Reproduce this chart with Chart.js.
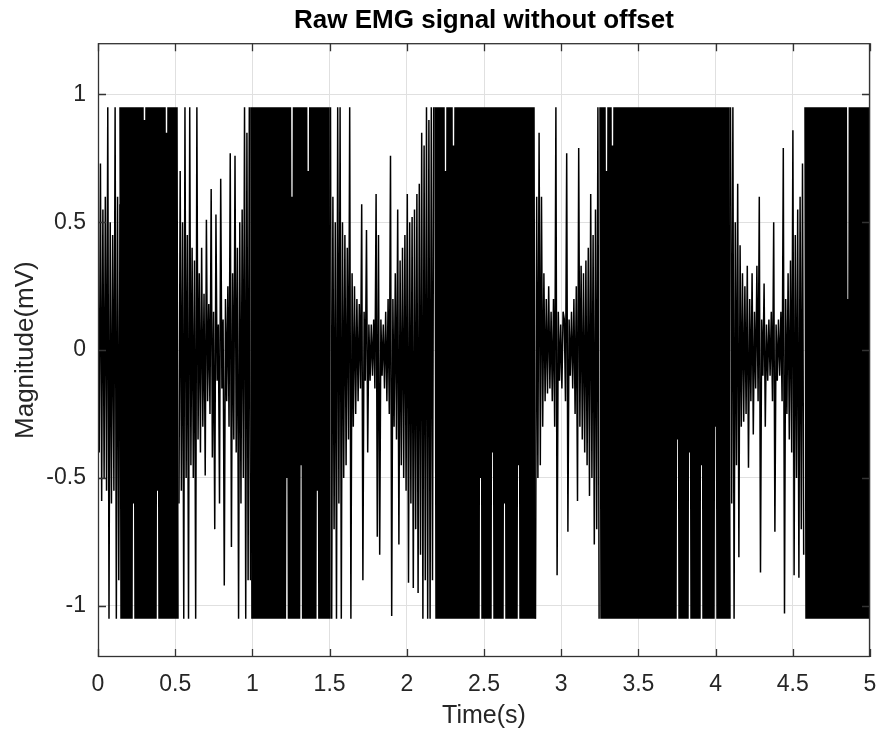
<!DOCTYPE html>
<html>
<head>
<meta charset="utf-8">
<title>Raw EMG signal without offset</title>
<script src="https://cdn.jsdelivr.net/npm/chart.js@4.4.1/dist/chart.umd.min.js"></script>
<style>
    html, body { margin: 0; padding: 0; background: #ffffff; }
    canvas { display: block; }
</style>
</head>
<body>
<canvas id="emgChart" width="881" height="731"></canvas>
<script>
// Tick labels
const xTicks = [0, 0.5, 1, 1.5, 2, 2.5, 3, 3.5, 4, 4.5, 5];
const yTicks = [-1, -0.5, 0, 0.5, 1];

// Time spans (s) of each stretch of samples
const restSpans = [[0, 0.1425], [0.5246, 0.9877], [1.5058, 2.1742], [2.8335, 3.2455], [4.0964, 4.5706]];
const burstSpans = [[0.1457, 0.5149], [0.9935, 1.4994], [2.1859, 2.8271], [3.2545, 4.09], [4.5822, 5]];

// Magnitude (mV) between contractions
const rest0 = [0.35, -0.4, 0.73, -0.59, 0.55, -0.5, 0.6, -0.55, 0.95, -1.05, 0.5, -0.6, 0.45, -0.55, 0.95, -1.05,
    0.6, -0.9, 0.57];
const rest1 = [-0.6, 0.7, -0.55, 0.5, -1.05, 0.95, -0.5, 0.45, -1.05, 0.95, -0.45, 0.4, -0.5, 0.35, -1.05, 0.95,
    -0.35, 0.3, -0.4, 0.4, -0.3, 0.22, -0.49, 0.51, -0.2, 0.18, -0.25, 0.63, -0.42, 0.15, -0.7, 0.53, -0.12,
    0.1, -0.6, 0.67, -0.15, 0.12, -0.92, 0.2, -0.2, 0.25, -0.3, 0.77, -0.77, 0.3, -0.35, 0.76, -0.4, 0.4,
    -1.05, 0.5, -0.6, 0.55, -0.5, 0.95, -1.05, 0.85, -0.9, 0.95, -0.9];
const rest2 = [0.95, -1.05, 0.6, -0.7, 0.5, -1.05, 0.95, -0.6, 0.95, -1.05, 0.5, -0.5, 0.45, -0.45, 0.4, -0.35,
    0.95, -1.05, 0.3, -0.3, 0.25, -0.25, 0.2, -0.2, 0.18, -0.15, 0.57, -0.9, 0.15, -0.12, 0.47, -0.4, 0.1,
    -0.12, 0.1, -0.1, 0.12, -0.15, 0.61, -0.73, 0.45, -0.8, 0.12, -0.1, 0.1, -0.15, 0.15, -0.2, 0.2, -0.25,
    0.76, -1.04, 0.2, -0.3, 0.3, -0.35, 0.55, -0.76, 0.35, -0.45, 0.4, -0.5, 0.45, -0.55, 0.61, -0.91, 0.5,
    -0.6, 0.52, -0.93, 0.55, -0.7, 0.61, -0.95, 0.65, -0.8, 0.85, -1.05, 0.8, -0.9, 0.95, -1.05, 0.9, -1.05,
    0.95, -0.9, 0.95];
const rest3 = [-1.05, 0.6, -0.5, 0.85, -0.45, 0.6, -0.3, 0.3, -0.2, 0.2, -0.17, 0.25, -0.15, 0.15, -0.2, 0.2,
    -0.3, 0.95, -0.88, 0.15, -0.12, 0.1, -0.15, 0.15, 0.12, -0.2, 0.77, -0.71, 0.12, -0.1, 0.15, -0.15, 0.2,
    -0.25, 0.25, -0.59, 0.79, -0.3, 0.33, -0.35, 0.3, -0.4, 0.35, -0.45, 0.4, -0.57, 0.61, -0.5, 0.45, -0.76,
    0.55, -0.7, 0.95, -1.05];
const rest4 = [0.95, -0.6, 0.95, -1.05, 0.5, -0.45, 0.65, -0.81, 0.41, -0.3, 0.3, -0.28, 0.25, -0.25, 0.33, -0.46,
    0.2, -0.2, 0.3, -0.33, 0.15, -0.15, 0.33, -0.2, 0.6, -0.87, 0.12, -0.1, 0.26, -0.3, 0.1, -0.12, 0.12,
    -0.1, 0.15, -0.2, 0.5, -0.71, 0.1, -0.12, 0.12, -0.1, 0.15, -0.2, 0.79, -1.03, 0.2, -0.25, 0.3, -0.35,
    0.35, -0.4, 0.86, -0.88, 0.45, -0.5, 0.55, -0.89, 0.6, -0.7, 0.73, -0.8];

// Magnitude (mV) during contractions (clipped at 0.95 / -1.05)
const burst1 = [
    0.95, -1.05, 0.95, -1.05, 0.95, -1.05, 0.95, -1.05, 0.95, -1.05,
    0.95, -1.05, 0.95, -0.6, 0.95, -1.05, 0.95, -1.05, 0.95, -1.05,
    0.95, -1.05, 0.95, -1.05, 0.9, -1.05, 0.95, -1.05, 0.95, -1.05,
    0.95, -1.05, 0.95, -1.05, 0.95, -1.05, 0.95, -0.55, 0.95, -1.05,
    0.95, -1.05, 0.95, -1.05, 0.95, -1.05, 0.85, -1.05, 0.95, -1.05,
    0.95, -1.05, 0.95, -1.05, 0.95, -1.05, 0.95, -1.05];
const burst2 = [
    0.95, -1.05, 0.95, -1.05, 0.95, -1.05, 0.95, -1.05, 0.95, -1.05,
    0.95, -1.05, 0.95, -1.05, 0.95, -1.05, 0.95, -1.05, 0.95, -1.05,
    0.95, -1.05, 0.95, -1.05, 0.95, -1.05, 0.95, -1.05, 0.95, -1.05,
    0.95, -1.05, 0.95, -1.05, 0.95, -0.5, 0.95, -1.05, 0.95, -1.05,
    0.6, -1.05, 0.95, -1.05, 0.95, -1.05, 0.95, -1.05, 0.95, -0.45,
    0.95, -1.05, 0.95, -1.05, 0.95, -1.05, 0.7, -1.05, 0.95, -1.05,
    0.95, -1.05, 0.95, -1.05, 0.95, -0.55, 0.95, -1.05, 0.95, -1.05,
    0.95, -1.05, 0.95, -1.05, 0.95, -1.05, 0.95, -1.05];
const burst3 = [
    0.95, -1.05, 0.95, -1.05, 0.95, -1.05, 0.95, -1.05, 0.95, -1.05,
    0.7, -1.05, 0.95, -1.05, 0.95, -1.05, 0.95, -1.05, 0.8, -1.05,
    0.95, -1.05, 0.95, -1.05, 0.95, -1.05, 0.95, -1.05, 0.95, -1.05,
    0.95, -1.05, 0.95, -1.05, 0.95, -1.05, 0.95, -1.05, 0.95, -1.05,
    0.95, -1.05, 0.95, -1.05, 0.95, -0.5, 0.95, -1.05, 0.95, -1.05,
    0.95, -1.05, 0.95, -1.05, 0.95, -1.05, 0.95, -0.4, 0.95, -1.05,
    0.95, -1.05, 0.95, -1.05, 0.95, -1.05, 0.95, -1.05, 0.95, -0.6,
    0.95, -1.05, 0.95, -1.05, 0.95, -1.05, 0.95, -1.05, 0.95, -1.05,
    0.95, -1.05, 0.95, -0.45, 0.95, -1.05, 0.95, -1.05, 0.95, -1.05,
    0.95, -1.05, 0.95, -1.05, 0.95, -1.05, 0.95, -1.05, 0.95, -1.05];
const burst4 = [
    0.95, -1.05, 0.95, -1.05, 0.95, -1.05, 0.7, -1.05, 0.95, -1.05,
    0.95, -1.05, 0.8, -1.05, 0.95, -1.05, 0.95, -1.05, 0.95, -1.05,
    0.95, -1.05, 0.95, -1.05, 0.95, -1.05, 0.95, -1.05, 0.95, -1.05,
    0.95, -1.05, 0.95, -1.05, 0.95, -1.05, 0.95, -1.05, 0.95, -1.05,
    0.95, -1.05, 0.95, -1.05, 0.95, -1.05, 0.95, -1.05, 0.95, -1.05,
    0.95, -1.05, 0.95, -1.05, 0.95, -1.05, 0.95, -1.05, 0.95, -1.05,
    0.95, -1.05, 0.95, -1.05, 0.95, -1.05, 0.95, -1.05, 0.95, -1.05,
    0.95, -1.05, 0.95, -1.05, 0.95, -1.05, 0.95, -0.35, 0.95, -1.05,
    0.95, -1.05, 0.95, -1.05, 0.95, -1.05, 0.95, -1.05, 0.95, -0.4,
    0.95, -1.05, 0.95, -1.05, 0.95, -1.05, 0.95, -1.05, 0.95, -1.05,
    0.95, -0.45, 0.95, -1.05, 0.95, -1.05, 0.95, -1.05, 0.95, -1.05,
    0.95, -1.05, 0.95, -1.05, 0.95, -0.3, 0.95, -1.05, 0.95, -1.05,
    0.95, -1.05, 0.95, -1.05, 0.95, -1.05, 0.95, -1.05, 0.95, -1.05];
const burst5 = [
    0.95, -1.05, 0.95, -1.05, 0.95, -1.05, 0.95, -1.05, 0.95, -1.05,
    0.95, -1.05, 0.95, -1.05, 0.95, -1.05, 0.95, -1.05, 0.95, -1.05,
    0.95, -1.05, 0.95, -1.05, 0.95, -1.05, 0.95, -1.05, 0.95, -1.05,
    0.95, -1.05, 0.95, -1.05, 0.95, -1.05, 0.95, -1.05, 0.95, -1.05,
    0.95, -1.05, 0.2, -1.05, 0.95, -1.05, 0.95, -1.05, 0.95, -1.05,
    0.95, -1.05, 0.95, -1.05, 0.95, -1.05, 0.95, -1.05, 0.95, -1.05,
    0.95, -1.05, 0.95, -1.05, 0.95];

const rests = [rest0, rest1, rest2, rest3, rest4];
const bursts = [burst1, burst2, burst3, burst4, burst5];

// Spread a stretch of samples evenly over its time span
function toPoints(span, values) {
    const step = (span[1] - span[0]) / (values.length - 1);
    return values.map((v, i) => ({ x: span[0] + i * step, y: v }));
}

function makeDataset(points, width) {
    return {
        data: points,
        borderColor: '#000000',
        borderWidth: width,
        pointRadius: 0,
        tension: 0,
        borderJoinStyle: 'bevel'
    };
}

const datasets = [];
rests.forEach((r, i) => datasets.push(makeDataset(toPoints(restSpans[i], r), 1.5)));
bursts.forEach((b, i) => datasets.push(makeDataset(toPoints(burstSpans[i], b), 2.5)));

const axisColor = '#262626';
const fontFamily = '"Liberation Sans", Arial, Helvetica, sans-serif';

// Box round the axes and inward tick marks, MATLAB style
const axesBox = {
    id: 'axesBox',
    afterDatasetsDraw(chart) {
        const { ctx, chartArea: a, scales } = chart;
        ctx.save();
        ctx.strokeStyle = '#333333';
        ctx.lineWidth = 1.3;
        ctx.strokeRect(a.left + 0.5, a.top + 0.5, a.width - 1, a.height - 1);
        ctx.beginPath();
        xTicks.forEach(v => {
            const x = Math.round(scales.x.getPixelForValue(v)) + 0.5;
            ctx.moveTo(x, a.bottom); ctx.lineTo(x, a.bottom - 8);
            ctx.moveTo(x, a.top); ctx.lineTo(x, a.top + 8);
        });
        yTicks.forEach(v => {
            const y = Math.round(scales.y.getPixelForValue(v)) + 0.5;
            ctx.moveTo(a.left, y); ctx.lineTo(a.left + 8, y);
            ctx.moveTo(a.right, y); ctx.lineTo(a.right - 8, y);
        });
        ctx.stroke();
        ctx.restore();
    }
};

const ctx = document.getElementById('emgChart').getContext('2d');
new Chart(ctx, {
    type: 'line',
    data: { datasets: datasets },
    options: {
        responsive: false,
        animation: false,
        devicePixelRatio: 1,
        layout: { padding: { left: 0, right: 11, top: 0, bottom: 0 } },
        plugins: {
            legend: { display: false },
            tooltip: { enabled: false },
            title: {
                display: true,
                text: 'Raw EMG signal without offset',
                fullSize: false,
                color: '#000000',
                font: { family: fontFamily, size: 26, weight: 'bold' },
                padding: { top: 5, bottom: 7 }
            }
        },
        scales: {
            x: {
                type: 'linear',
                min: 0,
                max: 5,
                afterBuildTicks: scale => { scale.ticks = xTicks.map(v => ({ value: v })); },
                afterFit: scale => {
                    scale.height = 74;
                    scale.paddingLeft = 0;
                    scale.paddingRight = 0;
                },
                grid: { color: '#e0e0e0', drawTicks: false },
                border: { display: false },
                ticks: {
                    color: axisColor,
                    padding: 14,
                    maxRotation: 0,
                    autoSkip: false,
                    font: { family: fontFamily, size: 23 },
                    callback: v => String(v)
                },
                title: {
                    display: true,
                    text: 'Time(s)',
                    color: axisColor,
                    font: { family: fontFamily, size: 25 },
                    padding: { top: 0, bottom: 0 }
                }
            },
            y: {
                type: 'linear',
                min: -1.2,
                max: 1.2,
                afterBuildTicks: scale => { scale.ticks = yTicks.map(v => ({ value: v })); },
                afterFit: scale => { scale.width = 98; },
                grid: { color: '#e0e0e0', drawTicks: false },
                border: { display: false },
                ticks: {
                    color: axisColor,
                    padding: 12,
                    autoSkip: false,
                    font: { family: fontFamily, size: 23 },
                    callback: v => String(v)
                },
                title: {
                    display: true,
                    text: 'Magnitude(mV)',
                    color: axisColor,
                    font: { family: fontFamily, size: 26 },
                    padding: { top: 10, bottom: 0 }
                }
            }
        }
    },
    plugins: [axesBox]
});
</script>
</body>
</html>
